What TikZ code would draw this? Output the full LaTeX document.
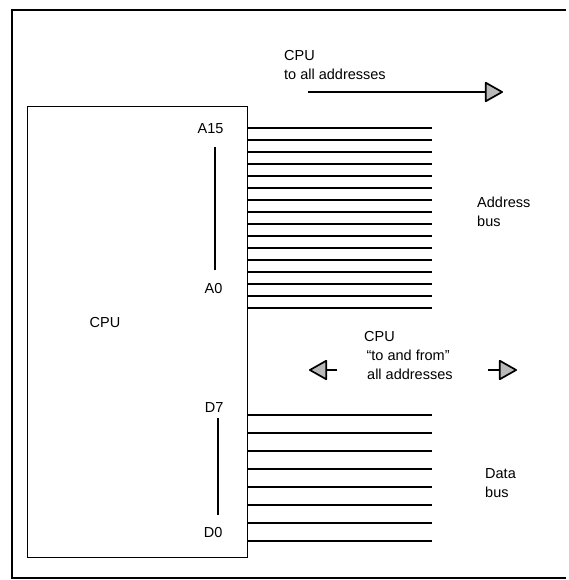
\documentclass[tikz,border=0pt]{standalone}
\usepackage{fontspec}
\setmainfont{Liberation Sans}
\usetikzlibrary{arrows.meta,positioning}

\begin{document}
\begin{tikzpicture}[
  x=1pt,y=-1pt,
  font=\fontsize{14.5}{19}\selectfont,
  frame/.style={line width=1.6pt},
  cpubox/.style={draw,line width=1.4pt,inner sep=0pt,minimum width=220pt,minimum height=451pt},
  busline/.style={line width=1.3pt},
  pinbar/.style={line width=1.3pt},
  txt/.style={align=left,inner sep=0pt},
  flow/.style={line width=1.7pt,-{Triangle[length=19pt,width=21pt,fill=gray!55,line join=round]}},
]
  \useasboundingbox (0,0) rectangle (569,580);

  % outer frame (open on the right)
  \draw[frame] (566,10) -- (12,10) -- (12,578) -- (566,578);

  \node[cpubox,anchor=north west] (cpu) at (27,106) {};
  \node (cpulabel) at (105,323) {CPU};

  % address bus, A15 down to A0
  \foreach \i in {0,...,15}
    \draw[busline] (cpu.east |- 0,{128+12*\i}) -- (432,{128+12*\i});
  % data bus, D7 down to D0
  \foreach \i in {0,...,7}
    \draw[busline] (cpu.east |- 0,{415+18*\i}) -- (432,{415+18*\i});

  \node[anchor=base east] (a15) at (227,134) {A15};
  \node[anchor=base east] (a0) at (226,293) {A0};
  \node[anchor=base east] (d7) at (227,412) {D7};
  \node[anchor=base east] (d0) at (226,537) {D0};
  \draw[pinbar] (215,147) -- (215,270);
  \draw[pinbar] (218,418) -- (218,515);

  \node[txt,anchor=north west] (addrflow) at (284,50) {CPU\\to all addresses};
  \coordinate (addrtail) at (308,92);
  \coordinate (addrtip) at (503,92);
  \draw[flow] (addrtail) -- (addrtip);
  \node[txt,anchor=north west] (addrbus) at (477,197) {Address\\bus};

  \node[txt,anchor=north west] (dataflow) at (364,331) {CPU\\\,``to and from''\\\hspace{3pt}all addresses};
  \coordinate (lefttail) at (337,370);
  \coordinate (lefttip) at (309,370);
  \coordinate (righttail) at (488,370);
  \coordinate (righttip) at (517,370);
  \draw[flow] (lefttail) -- (lefttip);
  \draw[flow] (righttail) -- (righttip);
  \node[txt,anchor=north west] (databus) at (485,468) {Data\\bus};
\end{tikzpicture}
\end{document}
